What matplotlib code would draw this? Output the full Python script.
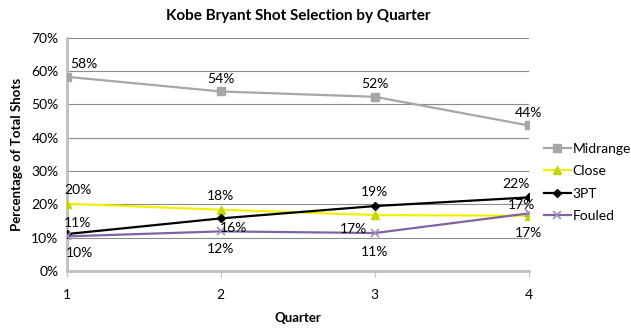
import numpy as np
import matplotlib.pyplot as plt
from matplotlib.ticker import FuncFormatter

plt.rcParams['font.family'] = ['Lato', 'DejaVu Sans']

# --- data ---
quarters = [1, 2, 3, 4]
midrange = [58.3, 53.9, 52.3, 43.7]
close = [20.2, 18.4, 16.8, 16.6]
three_pt = [11.1, 15.8, 19.5, 22.1]
fouled = [10.4, 11.9, 11.4, 17.3]
series_names = ['Midrange', 'Close', '3PT', 'Fouled']
labels_mid = ['58%', '54%', '52%', '44%']
labels_close = ['20%', '18%', '17%', '17%']
labels_3pt = ['11%', '16%', '19%', '22%']
labels_foul = ['10%', '12%', '11%', '17%']

# label offsets in points (dx, dy)
off_mid = [(12, 9), (0, 9), (0, 9), (0, 9)]
off_close = [(8, 10), (0, 10), (-15, -10), (-5, 8)]
off_3pt = [(8, 8), (9, -7), (0, 10), (-9, 10)]
off_foul = [(9, -12), (0, -13), (0, -14), (0, -14)]

fig = plt.figure(figsize=(6.31, 3.35), dpi=100)
ax = fig.add_axes([0.106, 0.191, 0.732, 0.696])

styles = [
    dict(color='#a6a6a6', marker='s', markersize=5.5, mfc='#a6a6a6', mec='#a6a6a6'),
    dict(color='#f0f000', marker='^', markersize=6, mfc='#c4d600', mec='#c4d600'),
    dict(color='#000000', marker='D', markersize=4, mfc='#000000', mec='#000000'),
    dict(color='#8064a2', marker='x', markersize=5.5, mfc='#8064a2', mec='#a48ac0', mew=1.2),
]
all_vals = [midrange, close, three_pt, fouled]
all_labels = [labels_mid, labels_close, labels_3pt, labels_foul]
all_offs = [off_mid, off_close, off_3pt, off_foul]

for name, vals, st in zip(series_names, all_vals, styles):
    ax.plot(quarters, vals, linewidth=1.6, label=name, zorder=3, **st)

for vals, labs, offs in zip(all_vals, all_labels, all_offs):
    for q, v, lab, o in zip(quarters, vals, labs, offs):
        ax.annotate(lab, (q, v), xytext=o, textcoords='offset points',
                    ha='center', va='center', fontsize=10, zorder=4)

ax.set_xlim(1, 4)
ax.set_ylim(0, 70)
ax.set_xticks(quarters)
ax.set_yticks(np.arange(0, 71, 10))
ax.yaxis.set_major_formatter(FuncFormatter(lambda v, p: f'{int(v)}%'))
ax.grid(axis='y', color='#8c8c8c', linewidth=0.8)
ax.set_axisbelow(True)
for s in ['top', 'right']:
    ax.spines[s].set_visible(False)
ax.spines['left'].set_color('#bfbfbf')
ax.spines['left'].set_linewidth(2)
ax.spines['bottom'].set_color('#bfbfbf')
ax.spines['bottom'].set_linewidth(2)
ax.tick_params(axis='y', length=0, labelsize=10, pad=6)
ax.tick_params(axis='x', length=4, color='#bfbfbf', labelsize=10, pad=9)

ax.set_title('Kobe Bryant Shot Selection by Quarter', fontsize=11, fontweight='bold', pad=13)
ax.set_xlabel('Quarter', fontsize=9.5, fontweight='bold', labelpad=8)
ax.set_ylabel('Percentage of Total Shots', fontsize=9.5, fontweight='bold', labelpad=6)

ax.legend(loc='center left', bbox_to_anchor=(1.005, 0.38), frameon=False,
          fontsize=10, handlelength=2, handletextpad=0.1, labelspacing=0.75)

fig.savefig('out.png', dpi=100, facecolor='white')
